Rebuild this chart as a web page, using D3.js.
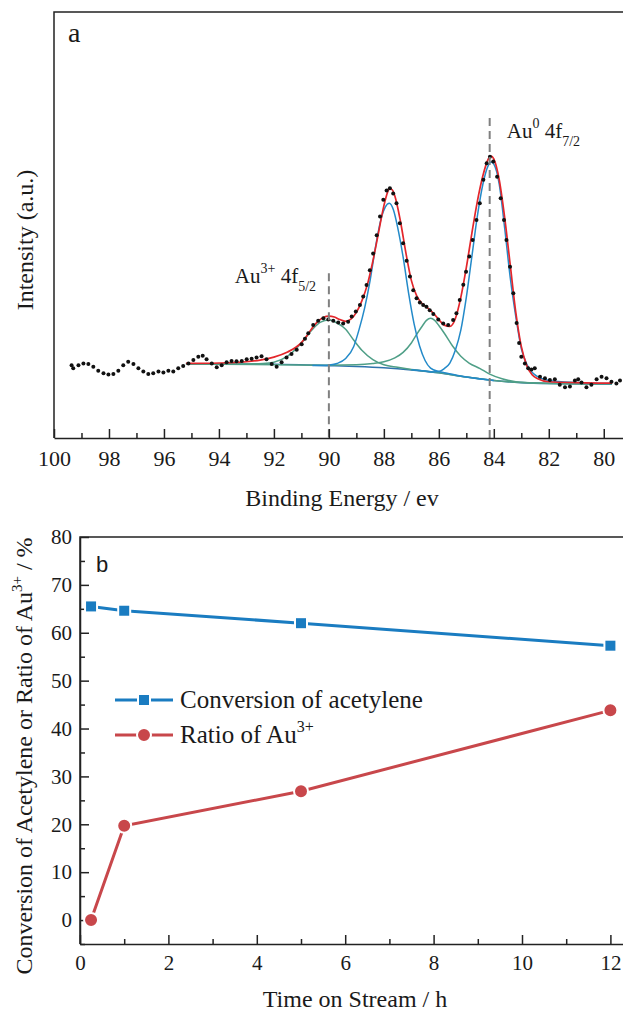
<!DOCTYPE html>
<html>
	<head>
		<meta charset="utf-8">
		<script src="https://cdn.jsdelivr.net/npm/d3@7"></script>
	</head>
	<body style="margin:0">
		<script>

			// ---------- panel a : XPS Au 4f ----------
			// binding energy (eV), intensity (a.u.)
			var xpsDots = [
				[99.36,17.1],[99.30,16.4],[99.11,17.1],[98.93,17.5],[98.75,17.4],[98.57,16.7],[98.39,15.8],[98.20,15.2],
				[98.02,14.9],[97.84,15.0],[97.66,15.8],[97.48,17.1],[97.30,17.9],[97.11,17.4],[96.93,16.4],[96.75,15.6],
				[96.57,15.0],[96.39,15.2],[96.20,15.6],[96.02,15.4],[95.84,15.8],[95.66,15.6],[95.48,16.4],[95.30,16.9],
				[95.11,17.5],[94.93,18.3],[94.75,19.1],[94.59,19.3],[94.45,18.5],[94.26,17.5],[94.08,16.6],[93.90,17.1],
				[93.72,17.8],[93.54,18.1],[93.36,18.0],[93.17,18.1],[92.99,18.5],[92.81,18.6],[92.63,18.9],[92.45,19.2],
				[92.27,18.5],[92.08,17.4],[91.90,16.7],[91.72,17.8],[91.54,18.9],[91.36,19.7],[91.17,20.7],[90.99,22.0],
				[90.87,23.3],[90.75,24.6],[90.57,26.5],[90.39,27.5],[90.20,28.1],[90.02,27.8],[89.84,27.5],[89.66,27.1],
				[89.48,26.9],[89.30,27.3],[89.17,28.5],[89.02,29.7],[88.87,31.2],[88.75,33.2],[88.63,35.9],[88.51,39.4],
				[88.39,43.3],[88.26,47.6],[88.14,52.0],[88.02,55.9],[87.90,58.1],[87.78,58.6],[87.66,57.4],[87.54,55.1],
				[87.42,50.4],[87.30,45.7],[87.17,41.6],[87.05,37.9],[86.93,34.7],[86.81,32.8],[86.69,31.8],[86.57,31.2],
				[86.45,30.8],[86.33,30.0],[86.20,29.1],[86.02,27.8],[85.84,26.9],[85.66,26.5],[85.48,27.7],[85.36,29.3],
				[85.24,32.4],[85.11,36.0],[85.01,39.0],[84.89,42.6],[84.77,46.5],[84.63,51.2],[84.51,55.1],[84.38,60.6],
				[84.26,64.5],[84.14,66.0],[84.02,64.9],[83.88,61.3],[83.75,56.3],[83.63,51.2],[83.54,46.5],[83.41,40.2],
				[83.29,34.0],[83.17,27.0],[83.08,22.3],[83.00,19.1],[82.87,17.5],[82.75,16.4],[82.63,16.1],[82.51,16.4],
				[82.32,14.4],[82.14,14.0],[81.96,13.6],[81.78,13.8],[81.60,12.5],[81.41,11.9],[81.23,12.1],[81.05,13.5],
				[80.93,13.8],[80.81,13.0],[80.63,11.9],[80.45,12.5],[80.26,13.8],[80.08,14.4],[79.90,14.0],[79.72,13.2],
				[79.54,12.8],[79.41,13.5]
			];

			var fitEnvelope = [
				[95.2,17.5],[94.0,17.6],[93.0,17.9],[92.5,18.3],[92.0,19.0],[91.5,20.2],[91.2,21.3],[91.0,22.4],
				[90.8,24.0],[90.6,25.9],[90.4,27.4],[90.2,28.3],[90.0,28.6],[89.8,28.4],[89.6,27.8],[89.4,27.4],
				[89.2,27.9],[89.0,29.5],[88.8,32.2],[88.6,36.0],[88.4,41.5],[88.2,48.0],[88.0,54.5],[87.9,57.0],
				[87.8,58.5],[87.7,58.3],[87.6,56.8],[87.4,51.0],[87.2,43.5],[87.0,37.0],[86.8,33.3],[86.6,31.5],
				[86.4,30.5],[86.2,29.3],[86.0,27.8],[85.8,26.5],[85.6,26.2],[85.4,28.0],[85.2,33.0],[85.0,40.0],
				[84.8,48.0],[84.6,55.5],[84.4,61.5],[84.2,65.5],[84.1,66.2],[84.0,65.5],[83.8,60.5],[83.6,51.5],
				[83.4,40.5],[83.2,29.5],[83.0,21.5],[82.8,17.0],[82.6,14.8],[82.4,13.9],[82.0,13.2],[81.0,13.0],
				[80.0,12.9],[79.7,12.9]
			];

			var fitBackground = [
				[95.2,17.4],[92.0,17.3],[90.0,17.0],[89.0,16.8],[88.0,16.5],[87.0,16.0],[86.0,15.3],[85.0,14.3],
				[84.0,13.5],[83.0,13.0],[82.0,12.8],[80.0,12.7],[79.7,12.7]
			];

			// Au0 4f7/2 (84.1 eV) and Au0 4f5/2 (87.8 eV)
			var peakAu0a = [
				[87.0,16.0],[86.5,15.7],[86.2,15.5],[86.0,15.6],[85.8,16.3],[85.6,17.6],[85.4,20.6],[85.2,25.3],
				[85.0,33.0],[84.8,42.5],[84.6,52.0],[84.4,59.5],[84.2,64.0],[84.1,64.8],[84.0,64.3],[83.8,59.5],
				[83.6,49.0],[83.4,37.5],[83.2,28.5],[83.0,21.0],[82.8,17.3],[82.6,15.4],[82.4,14.4],[82.0,13.5],
				[81.0,13.0],[80.0,12.8],[79.7,12.8]
			];
			var peakAu0b = [
				[90.6,17.0],[90.2,17.0],[90.0,17.1],[89.7,17.5],[89.4,18.6],[89.1,21.4],[88.9,25.5],[88.7,30.5],
				[88.5,37.0],[88.3,45.0],[88.1,51.5],[87.95,54.2],[87.8,55.1],[87.65,53.5],[87.5,49.5],[87.3,42.5],
				[87.1,34.0],[86.9,26.8],[86.7,21.6],[86.5,18.2],[86.3,16.4],[86.0,15.6],[85.7,15.2],[85.0,14.3],
				[84.0,13.5]
			];
			// Au3+ 4f5/2 (90.0 eV) and Au3+ 4f7/2 (86.3 eV)
			var peakAu3a = [
				[95.2,17.4],[93.0,17.4],[92.4,17.5],[92.0,17.8],[91.5,19.2],[91.0,22.3],[90.6,25.5],[90.3,27.2],
				[90.0,27.7],[89.7,27.0],[89.4,25.6],[89.1,23.0],[88.8,20.6],[88.4,18.4],[88.0,17.2],[87.5,16.6],
				[87.0,16.1],[86.0,15.3],[85.0,14.3],[84.0,13.5],[83.0,13.0],[82.0,12.8],[80.0,12.7],[79.7,12.7]
			];
			var peakAu3b = [
				[95.2,17.4],[90.0,17.1],[89.0,17.2],[88.4,17.5],[88.0,17.9],[87.6,18.8],[87.3,20.1],[87.0,22.3],
				[86.8,24.4],[86.6,26.3],[86.45,27.6],[86.3,28.1],[86.15,27.6],[86.0,26.4],[85.8,24.6],[85.5,21.6],
				[85.2,19.2],[84.9,17.6],[84.5,16.3],[84.15,15.0],[83.7,13.9],[83.2,13.2],[82.5,12.9],[80.0,12.7],
				[79.7,12.7]
			];

			// reference lines: [energy, top of the line]
			var refLines = [[90.0,38.7],[84.15,75.1]];

			var beTicks = [100,98,96,94,92,90,88,86,84,82,80];
			var beMinor = [99,97,95,93,91,89,87,85,83,81];

			// ---------- panel b : time on stream ----------
			var timeOnStream = [0.25, 1, 5, 12];
			var conversion = [65.5, 64.6, 62.0, 57.3];
			var ratioAu3 = [0.0, 19.7, 26.9, 43.8];

			var timeTicks = [0,2,4,6,8,10,12];
			var timeMinor = [1,3,5,7,9,11];
			var pctTicks = [0,10,20,30,40,50,60,70,80];
			var pctMinor = [-5,5,15,25,35,45,55,65,75];

			var w = 623;
			var h = 1016;
			var ink = "#1a1a1a";

			var svg = d3.select("body")
						.append("svg")
						.attr("width", w)
						.attr("height", h);

			// every text goes through here so the serif face is set on the element itself
			var label = function(sel, size){
				return sel.style("font-family", "Liberation Serif")
						.style("font-size", size + "px")
						.style("fill", ink);
				};

			// makes an axis look like the Origin one: dark, thicker, serif labels
			var styleAxis = function(g, size){
				g.attr("font-family", null).attr("font-size", null);
				g.selectAll("path,line").style("stroke", "#222").style("stroke-width", 1.5);
				g.selectAll("text").call(label, size);
				};

			// scales
			var xScale = d3.scaleLinear().domain([100, 79.3]).range([54, 623]);
			var yScale = d3.scaleLinear().domain([0, 100]).range([438, 12]);

			var line = d3.line()
					.x(function(d){ return xScale(d[0]); })
					.y(function(d){ return yScale(d[1]); })
					.curve(d3.curveMonotoneX);

			var pa = svg.append("g");

			// frame
			pa.append("path")
				.attr("d", "M" + xScale(100) + "," + yScale(0) + "V" + yScale(100) + "H" + w)
				.attr("fill", "none")
				.attr("stroke", "#222")
				.attr("stroke-width", 1.5);

			// fitted components
			pa.append("path").datum(fitBackground).attr("d", line)
				.attr("fill","none").attr("stroke","#2f74ad").attr("stroke-width",1.6);
			pa.append("path").datum(peakAu3a).attr("d", line)
				.attr("fill","none").attr("stroke","#4f9f87").attr("stroke-width",1.5);
			pa.append("path").datum(peakAu3b).attr("d", line)
				.attr("fill","none").attr("stroke","#4f9f87").attr("stroke-width",1.5);
			pa.append("path").datum(peakAu0b).attr("d", line)
				.attr("fill","none").attr("stroke","#238ac9").attr("stroke-width",1.5);
			pa.append("path").datum(peakAu0a).attr("d", line)
				.attr("fill","none").attr("stroke","#238ac9").attr("stroke-width",1.5);
			pa.append("path").datum(fitEnvelope).attr("d", line)
				.attr("fill","none").attr("stroke","#e3262b").attr("stroke-width",1.7);

			// raw data
			pa.selectAll("circle.dot")
				.data(xpsDots)
				.enter()
				.append("circle")
				.attr("class","dot")
				.attr("cx", function(d){ return xScale(d[0]); })
				.attr("cy", function(d){ return yScale(d[1]); })
				.attr("r", 2)
				.attr("fill", "#111");

			// dashed reference lines
			pa.selectAll("line.ref")
				.data(refLines)
				.enter()
				.append("line")
				.attr("class","ref")
				.attr("x1", function(d){ return xScale(d[0]); })
				.attr("x2", function(d){ return xScale(d[0]); })
				.attr("y1", function(d){ return yScale(d[1]); })
				.attr("y2", yScale(0))
				.attr("stroke", "#808080")
				.attr("stroke-width", 2)
				.attr("stroke-dasharray", "8,5");

			// x axis (ticks point inward)
			pa.append("g")
				.attr("transform","translate(0," + yScale(0) + ")")
				.call(d3.axisBottom(xScale).tickValues(beTicks).tickSize(-9).tickSizeOuter(0)
						.tickPadding(12).tickFormat(d3.format("d")))
				.call(styleAxis, 22);
			pa.append("g")
				.attr("transform","translate(0," + yScale(0) + ")")
				.call(d3.axisBottom(xScale).tickValues(beMinor).tickSize(-5).tickSizeOuter(0).tickFormat(""))
				.call(styleAxis, 22)
				.select(".domain").remove();

			// labels
			pa.append("text").attr("x", 68).attr("y", 42).call(label, 28).text("a");

			var lab3 = pa.append("text")
				.attr("x", xScale(93.42)).attr("y", yScale(36.4))
				.call(label, 21);
			lab3.append("tspan").text("Au");
			lab3.append("tspan").attr("dy",-10).style("font-size","14px").text("3+");
			lab3.append("tspan").attr("dy",10).text(" 4f");
			lab3.append("tspan").attr("dy",8).style("font-size","14px").text("5/2");

			var lab0 = pa.append("text")
				.attr("x", xScale(83.53)).attr("y", yScale(70.4))
				.call(label, 21);
			lab0.append("tspan").text("Au");
			lab0.append("tspan").attr("dy",-10).style("font-size","14px").text("0");
			lab0.append("tspan").attr("dy",10).text(" 4f");
			lab0.append("tspan").attr("dy",8).style("font-size","14px").text("7/2");

			pa.append("text")
				.attr("transform","translate(33,240) rotate(-90)")
				.attr("text-anchor","middle")
				.call(label, 24)
				.text("Intensity (a.u.)");

			pa.append("text")
				.attr("x", 342).attr("y", 506)
				.attr("text-anchor","middle")
				.call(label, 24)
				.text("Binding Energy / ev");

			// ---------- panel b ----------
			var bx = d3.scaleLinear().domain([0, 12.5]).range([80, 632.5]);
			var by = d3.scaleLinear().domain([-5, 80]).range([944, 537]);

			var pb = svg.append("g");

			pb.append("path")
				.attr("d", "M" + bx(0) + "," + by(-5) + "V" + by(80) + "H" + w)
				.attr("fill", "none")
				.attr("stroke", "#222")
				.attr("stroke-width", 1.5);

			pb.append("g")
				.attr("transform","translate(0," + by(-5) + ")")
				.call(d3.axisBottom(bx).tickValues(timeTicks).tickSize(-9).tickSizeOuter(0)
						.tickPadding(11).tickFormat(d3.format("d")))
				.call(styleAxis, 21);
			pb.append("g")
				.attr("transform","translate(0," + by(-5) + ")")
				.call(d3.axisBottom(bx).tickValues(timeMinor).tickSize(-5).tickSizeOuter(0).tickFormat(""))
				.call(styleAxis, 21)
				.select(".domain").remove();

			pb.append("g")
				.attr("transform","translate(" + bx(0) + ",0)")
				.call(d3.axisLeft(by).tickValues(pctTicks).tickSize(-9).tickSizeOuter(0)
						.tickPadding(8).tickFormat(d3.format("d")))
				.call(styleAxis, 21);
			pb.append("g")
				.attr("transform","translate(" + bx(0) + ",0)")
				.call(d3.axisLeft(by).tickValues(pctMinor).tickSize(-5).tickSizeOuter(0).tickFormat(""))
				.call(styleAxis, 21)
				.select(".domain").remove();

			var blue = "#1a7cc1";
			var red = "#c8474b";

			var convPts = timeOnStream.map(function(t, i){ return [t, conversion[i]]; });
			var ratioPts = timeOnStream.map(function(t, i){ return [t, ratioAu3[i]]; });

			var bline = d3.line()
					.x(function(d){ return bx(d[0]); })
					.y(function(d){ return by(d[1]); });

			pb.append("path").datum(convPts).attr("d", bline)
				.attr("fill","none").attr("stroke",blue).attr("stroke-width",3);
			pb.append("path").datum(ratioPts).attr("d", bline)
				.attr("fill","none").attr("stroke",red).attr("stroke-width",3);

			pb.selectAll("rect.conv")
				.data(convPts)
				.enter()
				.append("rect")
				.attr("class","conv")
				.attr("x", function(d){ return bx(d[0]) - 6; })
				.attr("y", function(d){ return by(d[1]) - 6; })
				.attr("width", 12).attr("height", 12)
				.attr("fill", blue)
				.attr("stroke", "white").attr("stroke-width", 2);

			pb.selectAll("circle.ratio")
				.data(ratioPts)
				.enter()
				.append("circle")
				.attr("class","ratio")
				.attr("cx", function(d){ return bx(d[0]); })
				.attr("cy", function(d){ return by(d[1]); })
				.attr("r", 7)
				.attr("fill", red)
				.attr("stroke", "white").attr("stroke-width", 2);

			// legend
			var lg = pb.append("g").attr("transform","translate(115,700)");
			lg.append("line").attr("x1",0).attr("x2",58).attr("y1",0).attr("y2",0)
				.attr("stroke",blue).attr("stroke-width",3);
			lg.append("rect").attr("x",23).attr("y",-6).attr("width",12).attr("height",12)
				.attr("fill",blue).attr("stroke","white").attr("stroke-width",2);
			lg.append("text").attr("x",65).attr("y",8)
				.call(label, 25)
				.text("Conversion of acetylene");

			lg.append("line").attr("x1",0).attr("x2",58).attr("y1",35).attr("y2",35)
				.attr("stroke",red).attr("stroke-width",3);
			lg.append("circle").attr("cx",29).attr("cy",35).attr("r",7)
				.attr("fill",red).attr("stroke","white").attr("stroke-width",2);
			var lt = lg.append("text").attr("x",65).attr("y",43).call(label, 25);
			lt.append("tspan").text("Ratio of Au");
			lt.append("tspan").attr("dy",-11).style("font-size","16px").text("3+");

			pb.append("text")
				.attr("x", 96).attr("y", 572)
				.call(label, 22)
				.style("font-family","Liberation Sans")
				.text("b");

			var yt = pb.append("text")
				.attr("transform","translate(32,756) rotate(-90)")
				.attr("text-anchor","middle")
				.call(label, 24);
			yt.append("tspan").text("Conversion of Acetylene or Ratio of Au");
			yt.append("tspan").attr("dy",-10).style("font-size","15px").text("3+");
			yt.append("tspan").attr("dy",10).text(" / %");

			pb.append("text")
				.attr("x", 355).attr("y", 1007)
				.attr("text-anchor","middle")
				.call(label, 24)
				.text("Time on Stream / h");

		</script>
	</body>
</html>
